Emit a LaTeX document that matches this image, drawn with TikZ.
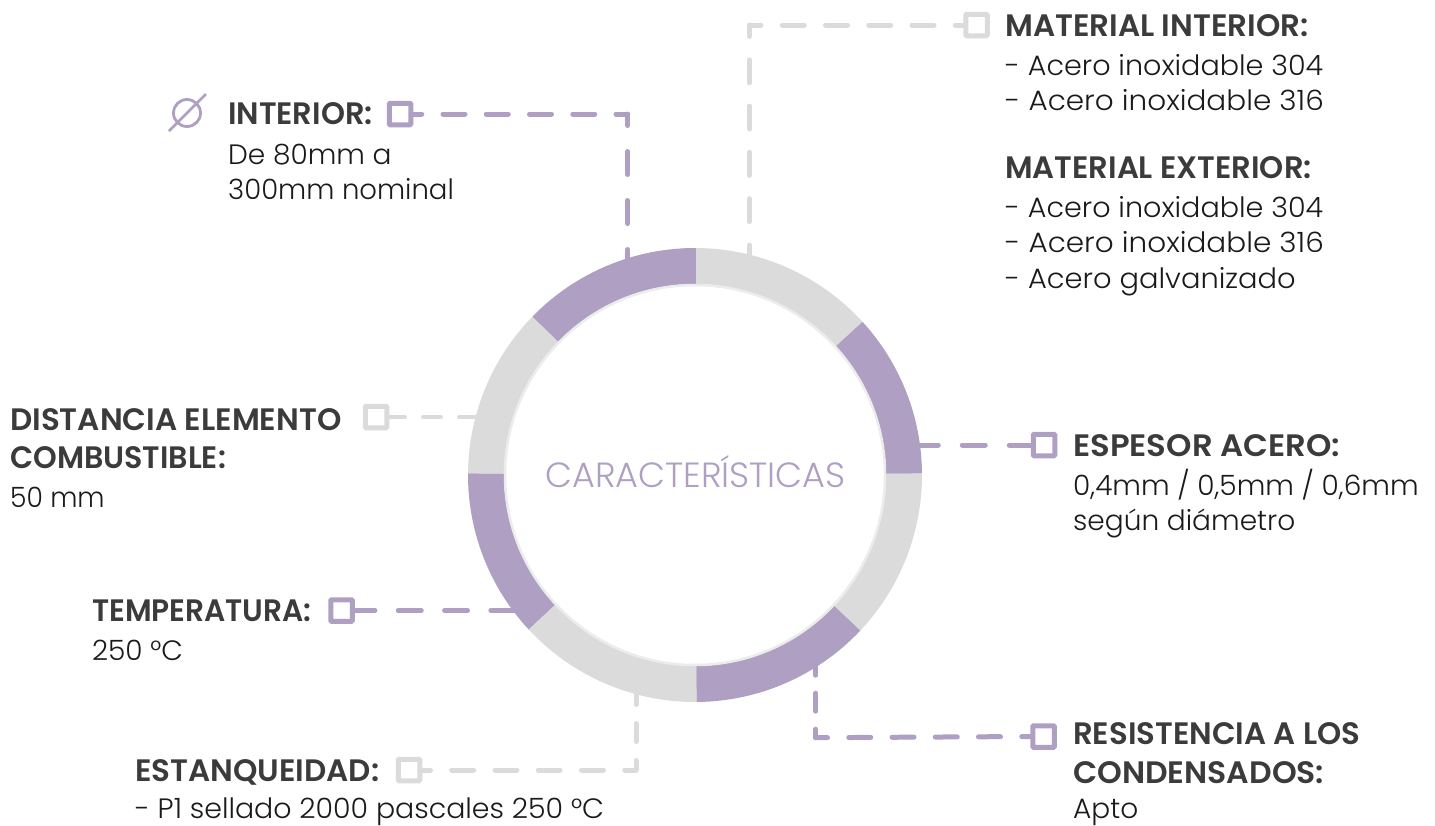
\documentclass[tikz,border=0pt]{standalone}
\usepackage{graphicx}
\usepackage{fontspec}
\setmainfont{Poppins}
\newfontfamily\headf{Poppins SemiBold}
\newfontfamily\lightf{Poppins Light}
\usetikzlibrary{backgrounds}
\definecolor{lila}{HTML}{AE9FC3}
\definecolor{gris}{HTML}{DBDBDB}
\definecolor{dark}{HTML}{3B3B3B}
\definecolor{body}{HTML}{1A1A1A}
\newcommand{\hs}[2]{\scalebox{#1}[1]{#2}}
\tikzset{
 head/.style={anchor=base west,inner sep=0pt,font=\headf\fontsize{31}{36}\selectfont,text=dark},
 txt/.style={anchor=base west,inner sep=0pt,font=\lightf\fontsize{28}{34}\selectfont,text=body},
 sqp/.style={draw=lila,line width=5pt,fill=white,minimum size=21.5pt,inner sep=0pt,rounded corners=1pt},
 sqg/.style={draw=gris,line width=5pt,fill=white,minimum size=21.5pt,inner sep=0pt,rounded corners=1pt},
 conn/.style={line width=5pt,line cap=round,line join=round},
 dashlong/.style={dash pattern=on 22pt off 21.25pt},
}
\begin{document}
\begin{tikzpicture}[x=1pt,y=-1pt]
\useasboundingbox (0,0) rectangle (1435,825);
% ring
\def\cx{695}\def\cy{475}
\foreach \a/\b/\c in {89.7/135.8/lila,135.8/179.6/gris,179.6/222.9/lila,222.9/270.4/gris,270.4/316.8/lila,316.8/360.4/gris,0.4/42.5/lila,42.5/89.7/gris}{
 \fill[\c] ({\cx+227*cos(\a)},{\cy-227*sin(\a)}) arc[start angle=-\a,end angle=-\b,radius=227] -- ({\cx+191*cos(\b)},{\cy-191*sin(\b)}) arc[start angle=-\b,end angle=-\a,radius=191] -- cycle;
}
\draw[line width=2.5pt,draw=gray!15] (\cx,\cy) circle[radius=190];
\node[circle,minimum size=378pt,inner sep=0pt] (ring) at (\cx,\cy) {};
\node[anchor=base,inner sep=0pt,text=lila,font=\lightf\fontsize{35}{42}\selectfont] (title) at (695.5,487) {CARACTERÍSTICAS};
% squares
\node[sqp] (s1) at (400,114) {};
\node[sqg] (s2) at (976.5,25) {};
\node[sqp] (s3) at (1044,445) {};
\node[sqp] (s4) at (1043.5,736.5) {};
\node[sqg] (s5) at (409,770) {};
\node[sqp] (s6) at (341.5,610.5) {};
\node[sqg] (s7) at (376,417) {};
\coordinate (c1) at (627.7,114); \coordinate (e1) at (627.7,264);
\coordinate (c2) at (749.5,25);  \coordinate (e2) at (749.5,258);
\coordinate (e3) at (915,445);
\coordinate (c4) at (815.7,737.7); \coordinate (e4) at (815.7,660);
\coordinate (c5) at (636,770); \coordinate (e5) at (636,690);
\coordinate (e6) at (520,610.5);
\coordinate (e7) at (482,417);
\begin{scope}[on background layer]
\draw[conn,lila,dashlong,dash phase=13.5pt] (s1.east) -- (c1);
\draw[conn,lila,dash pattern=on 23pt off 26pt,dash phase=11.5pt] (c1) -- (e1);
\draw[conn,gris,dashlong,dash phase=14pt] (s2.west) -- (c2);
\draw[conn,gris,dash pattern=on 23pt off 23.3pt,dash phase=11.5pt] (c2) -- (e2);
\draw[conn,lila,dash pattern=on 23pt off 24pt,dash phase=1.5pt] (s3.west) -- (e3);
\draw[conn,lila,dashlong,dash phase=13.5pt] (s4.west) -- (c4);
\draw[conn,lila,dash pattern=on 18pt off 18pt,dash phase=9.5pt] (c4) -- (e4);
\draw[conn,gris,dashlong,dash phase=13.8pt] (s5.east) -- (c5);
\draw[conn,gris,dash pattern=on 18pt off 19pt,dash phase=8.5pt] (c5) -- (e5);
\draw[conn,lila,dash pattern=on 23pt off 23.3pt,dash phase=2.8pt] (s6.east) -- (e6);
\draw[conn,gris,line width=4.5pt,dash pattern=on 17.5pt off 18.5pt,dash phase=2pt] (s7.east) -- (e7);
\end{scope}
% diameter icon
\node[circle,draw=lila,line width=2.8pt,minimum size=27pt,inner sep=0pt] (dia) at (187,113) {};
\coordinate (d1) at (169,131); \coordinate (d2) at (206,94);
\draw[lila,line width=2.8pt] (d1) -- (d2);
% text
\node[head] (t1) at (228,124) {\hs{.985}{INTERIOR:}};
\node[txt] (t1a) at (228,164) {De 80mm a};
\node[txt] (t1b) at (228,199) {\hs{.983}{300mm nominal}};
\node[head] (t2) at (1005,36) {MATERIAL INTERIOR:};
\node[txt] (t2a) at (1005,75) {\hs{1.022}{- Acero inoxidable 304}};
\node[txt] (t2b) at (1005,110) {\hs{1.053}{- Acero inoxidable 316}};
\node[head] (t3) at (1005,178) {\hs{.99}{MATERIAL EXTERIOR:}};
\node[txt] (t3a) at (1005,217) {\hs{1.022}{- Acero inoxidable 304}};
\node[txt] (t3b) at (1005,252) {\hs{1.053}{- Acero inoxidable 316}};
\node[txt] (t3c) at (1005,288) {\hs{1.032}{- Acero galvanizado}};
\node[head] (t4) at (1073,456) {\hs{1.043}{ESPESOR ACERO:}};
\node[txt] (t4a) at (1073,495) {0,4mm / 0,5mm / 0,6mm};
\node[txt] (t4b) at (1073,530) {según diámetro};
\node[head] (t5) at (1073,744) {\hs{.993}{RESISTENCIA A LOS}};
\node[head] (t5a) at (1073,783) {\hs{1.016}{CONDENSADOS:}};
\node[txt] (t5b) at (1073,818) {Apto};
\node[head] (t6) at (135,781) {ESTANQUEIDAD:};
\node[txt] (t6a) at (135,818) {\hs{1.015}{- P1 sellado 2000 pascales 250 °C}};
\node[head] (t7) at (92,621) {\hs{.957}{TEMPERATURA:}};
\node[txt] (t7a) at (92,660) {250 °C};
\node[head] (t8) at (10,430) {DISTANCIA ELEMENTO};
\node[head] (t8a) at (10,468) {\hs{.973}{COMBUSTIBLE:}};
\node[txt] (t8b) at (10,507) {\hs{.95}{50 mm}};
\end{tikzpicture}
\end{document}
